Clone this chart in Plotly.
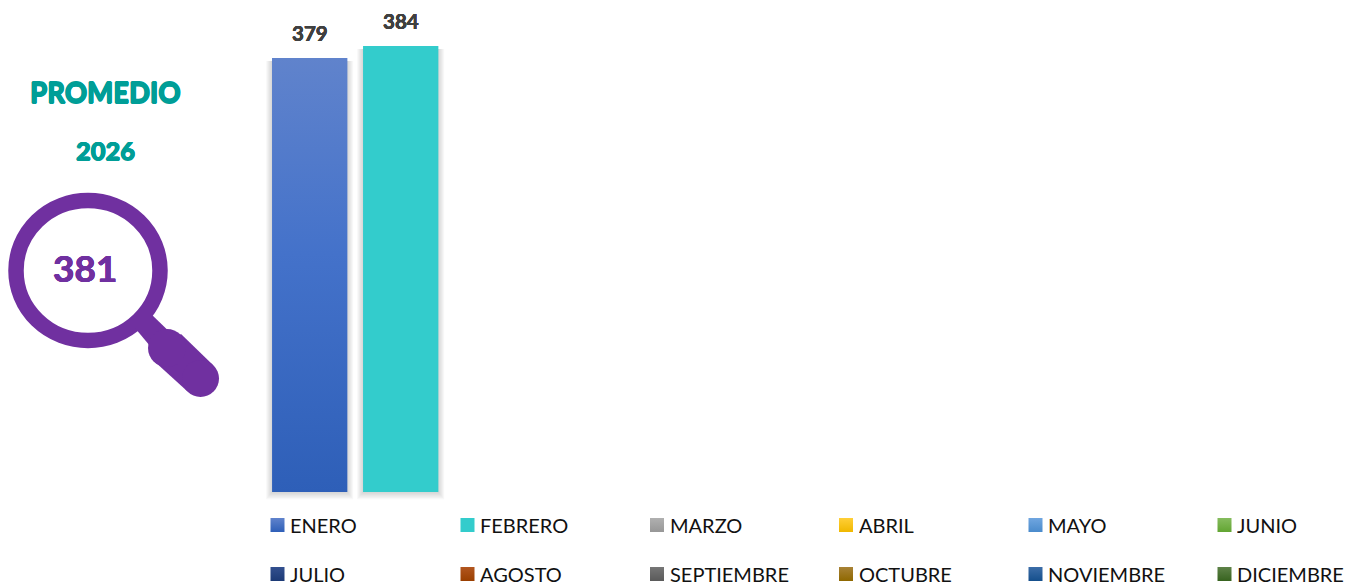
import plotly.graph_objects as go

# ---- data ----
months = ["ENERO", "FEBRERO", "MARZO", "ABRIL", "MAYO", "JUNIO", "JULIO", "AGOSTO",
          "SEPTIEMBRE", "OCTUBRE", "NOVIEMBRE", "DICIEMBRE"]
values = [379, 384, None, None, None, None, None, None, None, None, None, None]
average_value = "381"
title_text = "PROMEDIO"
year_text = "2026"

# ---- styles ----
top_colors = ["#6083CC", "#33CCCC", "#B0B0B0", "#FFCF38", "#70A6E0", "#86BC5E",
              "#33508F", "#B2561F", "#767676", "#A88236", "#3C6DA8", "#5E8248"]
mid_colors = ["#4472CA", "#33CCCC", "#A5A5A5", "#FFC000", "#5B9BD5", "#70AD47",
              "#264478", "#9E480E", "#636363", "#997300", "#255E91", "#43682B"]
bot_colors = ["#2E5FB8", "#33CCCC", "#979797", "#F0B800", "#4A8BCC", "#62A532",
              "#1C3A76", "#9A3F00", "#5A5A5A", "#8F6800", "#154F8C", "#37631F"]
FONT = "Lato"
W, H = 1355, 585
PX_PER_X = 91.0
X0_PX = 309.7
BASE = 200
PX_PER_Y = 2.424
BOTTOM_PX = 492
BAR_W = 75 / PX_PER_X


def thick(color, d=0.4):
    return f"{d}px 0 0 {color}, -{d}px 0 0 {color}, 0 {d}px 0 {color}, 0 -{d}px 0 {color}"


fig = go.Figure()

# soft shadow round the bars
for grow in (12, 10, 8, 6, 4, 2):
    for i, v in enumerate(values):
        if v is None:
            continue
        drop = grow * 0.6 / PX_PER_Y
        fig.add_trace(go.Bar(x=[i], y=[v - BASE + drop - 3 / PX_PER_Y], base=[BASE - drop],
                             width=[BAR_W + grow / PX_PER_X],
                             marker=dict(color="rgba(110,110,110,0.05)", line_width=0),
                             showlegend=False, hoverinfo="skip"))

# bars
for i, (m, v) in enumerate(zip(months, values)):
    fig.add_trace(go.Bar(x=[i], y=[None if v is None else v - BASE], base=[BASE], name=m,
                         width=[BAR_W], marker=dict(color=mid_colors[i], line_width=0),
                         showlegend=False))

# vertical gradient on the bars
for i, v in enumerate(values):
    if v is None:
        continue
    a, b = i - BAR_W / 2, i + BAR_W / 2
    fig.add_trace(go.Scatter(
        x=[a, b, b, a, a], y=[BASE, BASE, v, v, BASE], mode="lines", line_width=0,
        fill="toself", showlegend=False, hoverinfo="skip",
        fillgradient=dict(type="vertical", start=BASE, stop=v,
                          colorscale=[[0, bot_colors[i]], [0.55, mid_colors[i]], [1, top_colors[i]]])))

# legend, two rows of six
col_px = [277.5, 467.5, 657, 846, 1035.5, 1224.5]
row_px = [525, 574]
for i, m in enumerate(months):
    fig.add_trace(go.Scatter(
        x=[col_px[i % 6]], y=[row_px[i // 6]], xaxis="x2", yaxis="y2",
        mode="markers", showlegend=False, hoverinfo="skip",
        marker=dict(symbol="square", size=14, color=top_colors[i], line_width=0,
                    gradient=dict(type="vertical", color=bot_colors[i]))))

annotations = []
for i, m in enumerate(months):
    annotations.append(dict(xref="x2", yref="y2", x=col_px[i % 6] + 10.5, y=row_px[i // 6] - 0.5,
                            text=m, showarrow=False, xanchor="left", yanchor="middle", height=20,
                            font=dict(family=FONT, size=20, color="#111111")))
for i, v in enumerate(values):
    if v is not None:
        annotations.append(dict(xref="x", yref="y", x=i, y=v, text=str(v), showarrow=False,
                                yanchor="bottom", yshift=11,
                                font=dict(family=FONT, size=20.5, color="#404040", weight="bold",
                                          shadow=thick("#404040", 0.25))))
teal = "#009E97"
purple = "#7030A0"
annotations += [
    dict(xref="x2", yref="y2", x=105.5, y=92.5, text=title_text, showarrow=False,
         font=dict(family=FONT, size=27.5, color=teal, weight=900, shadow=thick(teal, 0.6))),
    dict(xref="x2", yref="y2", x=105.5, y=149.5, text=year_text, showarrow=False,
         font=dict(family=FONT, size=25.5, color=teal, weight=900, shadow=thick(teal, 0.5))),
    dict(xref="x2", yref="y2", x=85, y=267.5, text=average_value, showarrow=False,
         font=dict(family=FONT, size=37, color=purple, weight="bold", shadow=thick(purple, 0.4))),
]

# magnifying glass
ref = dict(xref="x2", yref="y2")
shapes = [
    dict(type="circle", x0=16, x1=160, y0=200.5, y1=340.5, line=dict(color=purple, width=15.5),
         fillcolor="rgba(0,0,0,0)", **ref),
    dict(type="path", path="M 135,328 L 150,313 L 180,342 L 160,358 Z", fillcolor=purple,
         line_width=0, **ref),
    dict(type="path", path="M 154,361 L 181,334 L 213,365 L 187,391 Z", fillcolor=purple,
         line_width=0, **ref),
    dict(type="circle", x0=148, x1=186, y0=329, y1=367, fillcolor=purple, line_width=0, **ref),
    dict(type="circle", x0=182, x1=219, y0=360, y1=397, fillcolor=purple, line_width=0, **ref),
]

fig.update_layout(
    width=W, height=H, margin=dict(l=0, r=0, t=0, b=0, autoexpand=False),
    paper_bgcolor="white", plot_bgcolor="white", barmode="overlay", showlegend=False,
    font=dict(family=FONT),
    xaxis=dict(range=[-X0_PX / PX_PER_X, (W - X0_PX) / PX_PER_X], visible=False, fixedrange=True),
    yaxis=dict(range=[BASE - (H - BOTTOM_PX) / PX_PER_Y, BASE + BOTTOM_PX / PX_PER_Y],
               visible=False, fixedrange=True),
    xaxis2=dict(range=[0, W], overlaying="x", visible=False, fixedrange=True),
    yaxis2=dict(range=[H, 0], overlaying="y", visible=False, fixedrange=True),
    annotations=annotations, shapes=shapes,
)

fig.write_html("out.html", config={"displayModeBar": False},
               post_script="document.body.style.margin='0';document.body.style.overflow='hidden';")
